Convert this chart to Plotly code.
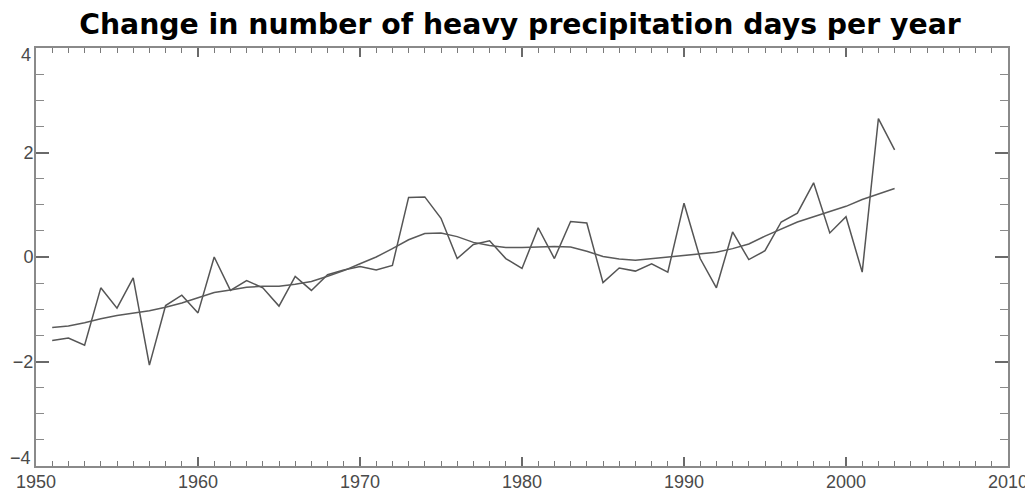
import plotly.graph_objects as go

years = list(range(1951, 2004))
annual = [-1.60, -1.55, -1.69, -0.59, -0.98, -0.40, -2.07, -0.93, -0.73, -1.07,
          0.00, -0.64, -0.45, -0.59, -0.94, -0.37, -0.64, -0.34, -0.25, -0.18,
          -0.25, -0.16, 1.14, 1.15, 0.74, -0.03, 0.24, 0.31, -0.03, -0.22,
          0.56, -0.03, 0.68, 0.65, -0.49, -0.21, -0.27, -0.13, -0.29, 1.03,
          -0.03, -0.59, 0.48, -0.05, 0.12, 0.67, 0.84, 1.42, 0.46, 0.77,
          -0.29, 2.65, 2.05]
smooth = [-1.35, -1.32, -1.26, -1.18, -1.12, -1.07, -1.03, -0.96, -0.88, -0.78,
          -0.68, -0.63, -0.58, -0.56, -0.56, -0.52, -0.47, -0.37, -0.26, -0.13,
          0.00, 0.16, 0.33, 0.45, 0.46, 0.39, 0.28, 0.22, 0.18, 0.18,
          0.19, 0.20, 0.19, 0.11, 0.01, -0.04, -0.06, -0.03, 0.00, 0.04,
          0.06, 0.09, 0.16, 0.25, 0.40, 0.54, 0.67, 0.77, 0.87, 0.97,
          1.10, 1.21, 1.31]
x_ticks = [1950, 1960, 1970, 1980, 1990, 2000, 2010]
y_ticks = [-4, -2, 0, 2, 4]
y_ticktext = ["", "−2", "0", "2", ""]     # end labels drawn nudged inward below
title = "Change in number of heavy precipitation days per year"

tick_font = dict(family="Liberation Sans, Arial", size=18, color="#4a4a4a")

fig = go.Figure()
fig.add_trace(go.Scatter(x=years, y=annual, mode="lines",
                         line=dict(color="#555555", width=1.5), showlegend=False))
fig.add_trace(go.Scatter(x=years, y=smooth, mode="lines",
                         line=dict(color="#5a5a5a", width=1.5), showlegend=False))

axis_common = dict(showgrid=False, zeroline=False, showline=True, automargin=False,
                   linecolor="#8a8a8a", linewidth=2, mirror="allticks",
                   ticks="inside", tickcolor="#6a6a6a", tickwidth=1.5,
                   tickfont=tick_font)

fig.update_xaxes(range=[1950, 2010], tickvals=x_ticks, ticklen=9,
                 ticklabelstandoff=-2,
                 minor=dict(dtick=1, ticks="inside", ticklen=5, tickcolor="#7a7a7a", tickwidth=1),
                 **axis_common)
fig.update_yaxes(range=[-4, 4], tickvals=y_ticks, ticktext=y_ticktext, ticklen=13,
                 ticklabelstandoff=-3,
                 minor=dict(dtick=0.5, ticks="inside", ticklen=8, tickcolor="#8a8a8a", tickwidth=1),
                 **axis_common)

# extreme y labels, IDL-style, sit just inside the axis range
for val, shift in [(y_ticks[-1], -7), (y_ticks[0], 8)]:
    fig.add_annotation(xref="paper", yref="y", x=0, y=val, xanchor="right", yanchor="middle",
                       xshift=-3, yshift=shift, showarrow=False,
                       text=str(val).replace("-", "−"), font=tick_font)

# the page body adds an 8px margin, so the figure is sized to fit the window
fig.update_layout(
    width=1025, height=483,
    margin=dict(l=28, r=25, t=40, b=25),
    paper_bgcolor="white", plot_bgcolor="white",
    title=dict(text="<b>" + title + "</b>", x=0.4995, xanchor="center", y=0.967, yanchor="middle",
               automargin=False,
               font=dict(family="DejaVu Sans", size=28.3, color="black")),
)

fig.write_html("out.html")
